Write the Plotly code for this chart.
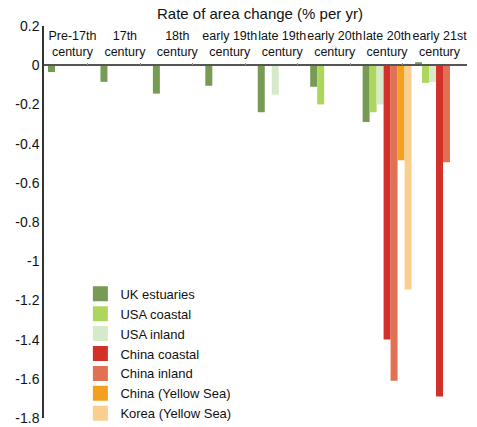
import plotly.graph_objects as go

categories = ["Pre-17th<br>century", "17th<br>century", "18th<br>century",
              "early 19th<br>century", "late 19th<br>century", "early 20th<br>century",
              "late 20th<br>century", "early 21st<br>century"]

uk_estuaries = [-0.035, -0.085, -0.145, -0.105, -0.24, -0.11, -0.29, 0.015]
usa_coastal = [None, None, None, None, None, -0.20, -0.24, -0.09]
usa_inland = [None, None, None, None, -0.15, None, -0.20, -0.085]
china_coastal = [None, None, None, None, None, None, -1.40, -1.69]
china_inland = [None, None, None, None, None, None, -1.61, -0.495]
china_yellow = [None, None, None, None, None, None, -0.485, None]
korea_yellow = [None, None, None, None, None, None, -1.145, None]

series_names = ["UK estuaries", "USA coastal", "USA inland", "China coastal",
                "China inland", "China (Yellow Sea)", "Korea (Yellow Sea)"]
series_values = [uk_estuaries, usa_coastal, usa_inland, china_coastal,
                 china_inland, china_yellow, korea_yellow]
colors = ["#779a55", "#add65e", "#d6e9c9", "#d4302a", "#e07152", "#f2a01f", "#f9cf90"]

ytick_vals = [0.2, 0, -0.2, -0.4, -0.6, -0.8, -1, -1.2, -1.4, -1.6, -1.8]
ytick_text = ["0.2", "0", "-0.2", "-0.4", "-0.6", "-0.8", "-1", "-1.2", "-1.4", "-1.6", "-1.8"]

FONT = "Liberation Sans, Arial, sans-serif"
X_RANGE = [-0.543, 7.524]

fig = go.Figure()
for name, vals, col in zip(series_names, series_values, colors):
    fig.add_trace(go.Bar(x=categories, y=vals, name=name, showlegend=False,
                         legendgroup=name,
                         marker=dict(color=col, line=dict(width=0))))
# legend entries with larger square swatches
for name, col in zip(series_names, colors):
    fig.add_trace(go.Scatter(x=[None], y=[None], mode="markers", name=name,
                             legendgroup=name,
                             marker=dict(symbol="square", size=15, color=col)))

# small separator ticks on the zero line (between category groups)
sep_ticks = [k + 0.295 for k in range(len(categories) - 1)]

fig.update_layout(
    width=477, height=427,
    margin=dict(l=44, r=10, t=26, b=9, autoexpand=False),
    paper_bgcolor="white", plot_bgcolor="white",
    barmode="group", bargap=0.067, bargroupgap=0,
    font=dict(family=FONT, size=14, color="#111"),
    title=dict(text="Rate of area change (% per yr)", x=0.545, xanchor="center",
               y=0.967, yanchor="middle", font=dict(family=FONT, size=15, color="#111")),
    showlegend=True,
    legend=dict(x=0.086, y=0.355, xanchor="left", yanchor="top",
                font=dict(family=FONT, size=13, color="#111"),
                bgcolor="rgba(0,0,0,0)", tracegroupgap=0, itemwidth=30),
    xaxis=dict(side="top", anchor="free", position=0.9, showline=True,
               linecolor="#555", linewidth=1.5, ticks="", showgrid=False,
               tickangle=0, automargin=False, ticklabelstandoff=3,
               tickfont=dict(family=FONT, size=12.5, color="#111"), zeroline=False,
               range=X_RANGE),
    xaxis2=dict(overlaying="x", side="top", anchor="free", position=0.9,
                range=X_RANGE, tickvals=sep_ticks, ticks="outside", ticklen=2,
                tickcolor="#999", tickwidth=1, showticklabels=False,
                showgrid=False, zeroline=False, showline=False, automargin=False),
    yaxis=dict(range=[-1.8, 0.2], tickvals=ytick_vals, ticktext=ytick_text,
               showline=True, linecolor="#333", linewidth=1.5, ticks="",
               showgrid=False, zeroline=False, automargin=False,
               tickfont=dict(family=FONT, size=14, color="#111")),
)
# invisible trace to activate the separator-tick axis
fig.add_trace(go.Scatter(x=[None], y=[None], xaxis="x2", showlegend=False,
                         hoverinfo="skip"))

fig.write_html("out.html", config={"displayModeBar": False},
               post_script="document.body.style.margin='0';")
